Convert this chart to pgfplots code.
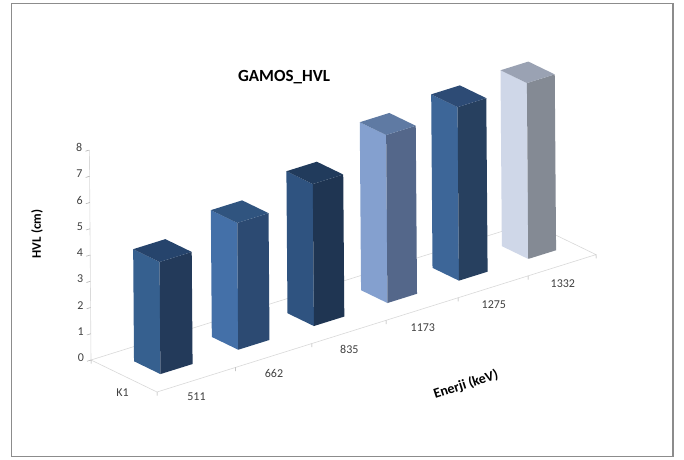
\documentclass[border=0pt]{standalone}
\usepackage{fontspec}
\setmainfont{Carlito}
\usepackage{pgfplots}
\pgfplotsset{compat=1.18}

% One upright bar: category index, value, colours of the lit, shaded and top faces
\newcommand{\hvlbar}[5]{%
  \pgfmathsetmacro{\xa}{#1+0.31}%
  \pgfmathsetmacro{\xb}{#1+0.72}%
  \addplot3[draw=none,fill=#3] coordinates {(\xa,0.32,0) (\xa,0.72,0) (\xa,0.72,#2) (\xa,0.32,#2)} --cycle;
  \addplot3[draw=none,fill=#4] coordinates {(\xa,0.32,0) (\xb,0.32,0) (\xb,0.32,#2) (\xa,0.32,#2)} --cycle;
  \addplot3[draw=none,fill=#5] coordinates {(\xa,0.32,#2) (\xb,0.32,#2) (\xb,0.72,#2) (\xa,0.72,#2)} --cycle;
}

\definecolor{floorline}{HTML}{D9D9D9}
\definecolor{tickgray}{HTML}{A6A6A6}
\definecolor{labelgray}{HTML}{404040}
\definecolor{frameline}{HTML}{8C8C8C}
\definecolor{fa}{HTML}{36608F}\definecolor{sa}{HTML}{233A5A}\definecolor{ta}{HTML}{26446C}
\definecolor{fb}{HTML}{4470A8}\definecolor{sb}{HTML}{2C4A72}\definecolor{tb}{HTML}{30547F}
\definecolor{fc}{HTML}{2F5380}\definecolor{sc}{HTML}{1F3552}\definecolor{tc}{HTML}{213B5C}
\definecolor{fd}{HTML}{84A0CF}\definecolor{sd}{HTML}{54678A}\definecolor{td}{HTML}{5F7AA3}
\definecolor{fe}{HTML}{3D6698}\definecolor{se}{HTML}{27405F}\definecolor{te}{HTML}{2D4B75}
\definecolor{ff}{HTML}{CFD7E8}\definecolor{sf}{HTML}{848A94}\definecolor{tf}{HTML}{9AA2B3}

\begin{document}
\begin{tikzpicture}[x=1pt,y=1pt]
\useasboundingbox (0,0) rectangle (684,459);
\fill[white] (0,0) rectangle (684,459);
\draw[frameline,line width=1.3pt,fill=white] (11.5,2.5) rectangle (673,455.5);
\begin{axis}[
  at={(157pt,67pt)},anchor=origin,
  x={(1pt,0.313pt)},y={(-66pt,32pt)},z={(-0.2pt,26.25pt)},
  x coord trafo/.code={\pgfmathparse{79.5*#1-1.056*#1*#1}},
  xmin=0,xmax=6,ymin=0,ymax=1,zmin=0,zmax=8,
  clip=false,
  axis line style={draw=none},
  tick align=outside,
  tick style={draw=none},
  major tick length=4pt,
  xtick={0,1,2,3,4,5,6},xticklabels={},
  ytick={0,1},yticklabels={},
  ztick={0,1,2,3,4,5,6,7,8},
  xtick pos=bottom,ytick pos=bottom,ztick pos=right,zticklabel pos=left,
  extra x ticks={0.5,1.5,2.5,3.5,4.5,5.5},
  extra x tick labels={511,662,835,1173,1275,1332},
  extra x tick style={major tick length=0pt,tick style={draw=none}},
  extra y ticks={0.5},
  extra y tick labels={K1},
  extra y tick style={major tick length=0pt,tick style={draw=none}},
  tick label style={font=\fontsize{12}{14}\selectfont,text=labelgray,/pgf/number format/assume math mode=true},
  x tick label style={xshift=-6pt,yshift=-8pt},
  y tick label style={xshift=5pt,yshift=-8pt},
  title={\fontsize{17}{20}\selectfont\bfseries GAMOS\_HVL},
  title style={at={(axis cs:1.66,0,10.24)},anchor=center},
  xlabel={\fontsize{14}{16}\selectfont\bfseries Enerji (keV)},
  xlabel style={at={(axis cs:4.1,0,-3.40)},anchor=center,rotate=18},
  zlabel={\fontsize{13}{15}\selectfont\bfseries HVL (cm)},
  zlabel style={at={(axis cs:-0.66,1,5.43)},anchor=center,rotate=0},
  unbounded coords=jump,
]
% floor outline and vertical axis line
\addplot3[floorline,line width=0.6pt] coordinates {(0,1,0) (6,1,0) (6,0,0) (0,0,0) (0,1,0) (0,1,8)};
% short tick stubs on the vertical axis
\addplot3[tickgray,line width=0.5pt] coordinates {
  (0,1,0) (-0.05,1,0) (0,1,nan)
  (0,1,1) (-0.05,1,1) (0,1,nan)
  (0,1,2) (-0.05,1,2) (0,1,nan)
  (0,1,3) (-0.05,1,3) (0,1,nan)
  (0,1,4) (-0.05,1,4) (0,1,nan)
  (0,1,5) (-0.05,1,5) (0,1,nan)
  (0,1,6) (-0.05,1,6) (0,1,nan)
  (0,1,7) (-0.05,1,7) (0,1,nan)
  (0,1,8) (-0.05,1,8)
};
% tick stubs hanging below the floor edges
\addplot3[tickgray,line width=0.5pt] coordinates {
  (0,0,0) (0,0,-0.14) (0,0,nan)
  (1,0,0) (1,0,-0.14) (1,0,nan)
  (2,0,0) (2,0,-0.14) (2,0,nan)
  (3,0,0) (3,0,-0.14) (3,0,nan)
  (4,0,0) (4,0,-0.14) (4,0,nan)
  (5,0,0) (5,0,-0.14) (5,0,nan)
  (6,0,0) (6,0,-0.14) (6,0,nan)
  (0,1,0) (0,1,-0.14)
};

\hvlbar{0}{4.27}{fa}{sa}{ta}
\hvlbar{1}{4.83}{fb}{sb}{tb}
\hvlbar{2}{5.41}{fc}{sc}{tc}
\hvlbar{3}{6.40}{fd}{sd}{td}
\hvlbar{4}{6.61}{fe}{se}{te}
\hvlbar{5}{6.70}{ff}{sf}{tf}
\end{axis}
\end{tikzpicture}
\end{document}
